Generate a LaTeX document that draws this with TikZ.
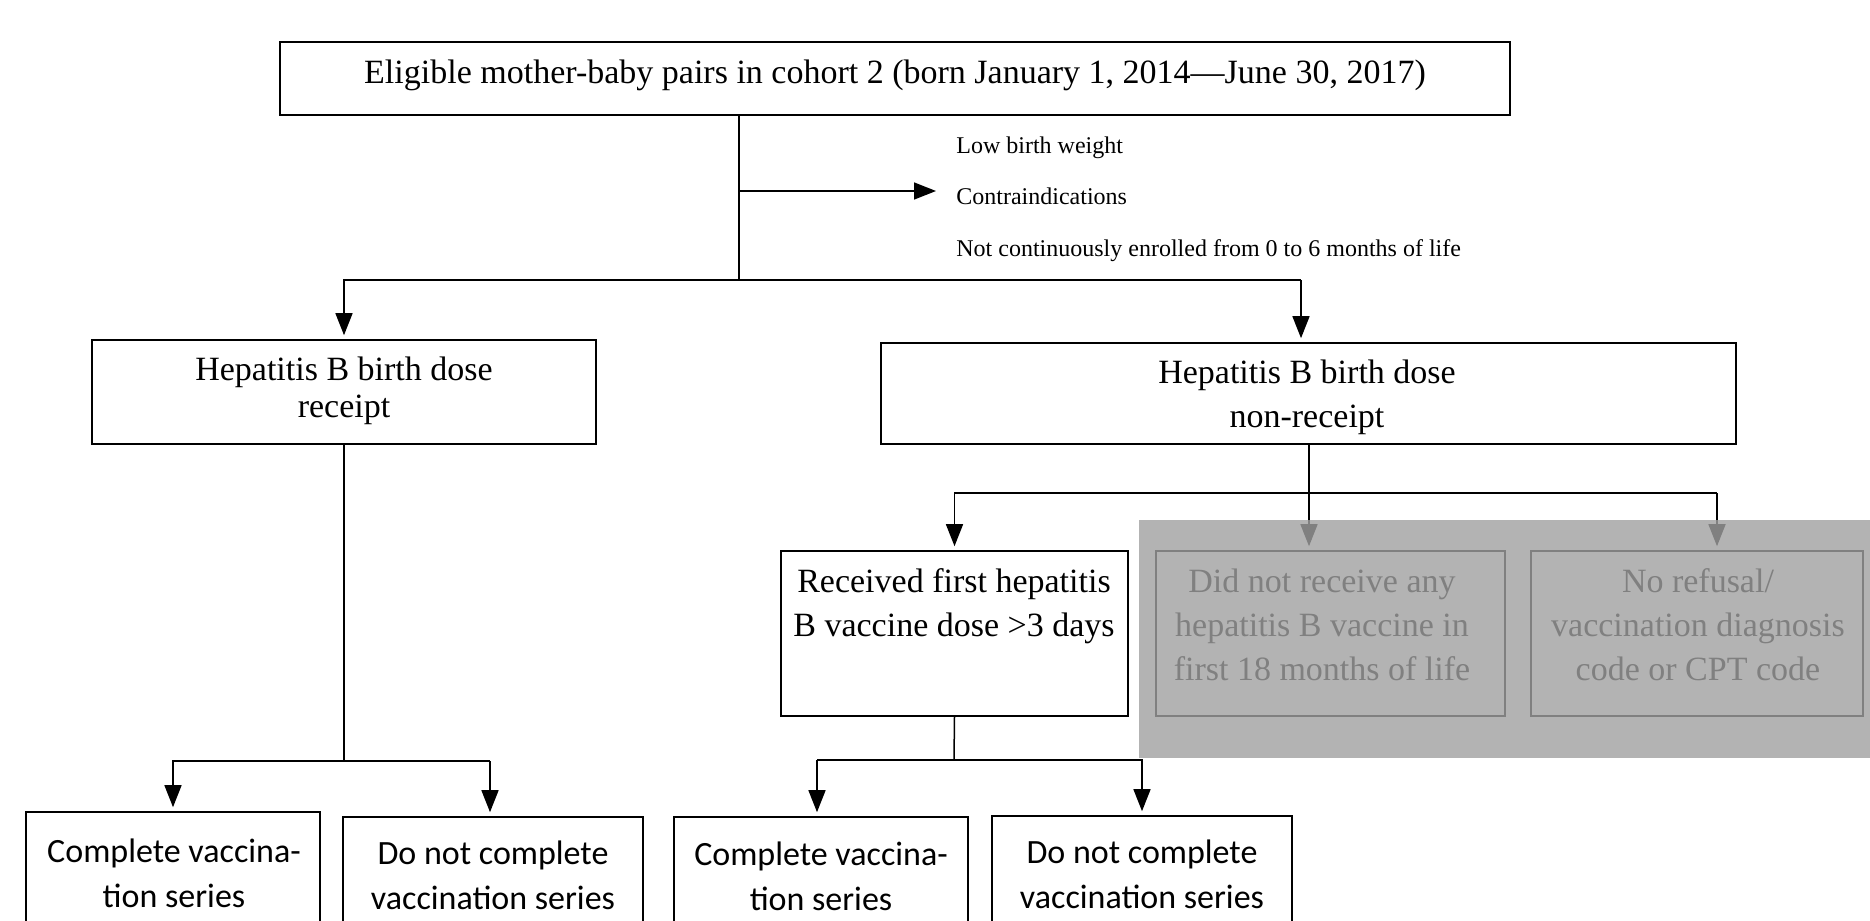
\documentclass[tikz,border=0pt]{standalone}
\usepackage{fontspec}
\setmainfont{Liberation Serif}
\newfontfamily\sansc{Carlito}
\usetikzlibrary{arrows.meta}
\definecolor{ov}{RGB}{160,160,160}
\begin{document}
\begin{tikzpicture}[x=0.5pt,y=-0.5pt,
  box/.style={draw, line width=0.8pt, inner sep=0pt},
  conn/.style={line width=0.75pt},
  arr/.style={conn, -{Triangle[length=11pt,width=8.5pt]}, shorten >=2pt},
  serif/.style={font=\fontsize{17}{22}\selectfont, align=center, inner sep=0pt},
  sans/.style={font=\sansc\fontsize{17}{22.5}\selectfont, align=center, inner sep=0pt},
]
\useasboundingbox (0,0) rectangle (1870,921);
\clip (0,0) rectangle (1870,921);

% boxes
\node[box, minimum width=615pt, minimum height=36.5pt] (top) at (895,78.5) {};
\node[box, minimum width=252pt, minimum height=52pt] (hepL) at (344,392) {};
\node[box, minimum width=427.5pt, minimum height=50.5pt] (hepR) at (1308.5,393.5) {};
\node[box, minimum width=173.5pt, minimum height=82.5pt] (recv) at (954.5,633.5) {};
\node[box, minimum width=174.5pt, minimum height=82.5pt] (g1) at (1330.5,633.5) {};
\node[box, minimum width=166pt, minimum height=82.5pt] (g2) at (1697,633.5) {};
\node[box, minimum width=147pt, minimum height=100pt] (c1) at (173,912) {};
\node[box, minimum width=150pt, minimum height=100pt] (d1) at (493,917) {};
\node[box, minimum width=147pt, minimum height=100pt] (c2) at (821,917) {};
\node[box, minimum width=150pt, minimum height=100pt] (d2) at (1142,916) {};

% texts
\node[serif] (topt) at (895,75) {Eligible mother-baby pairs in cohort 2 (born January 1, 2014—June 30, 2017)};
\node[font=\fontsize{12}{25.75}\selectfont, align=left, anchor=west, inner sep=0pt] (excl) at (956,199)
  {Low birth weight\\Contraindications\\Not continuously enrolled from 0 to 6 months of life};
\node[serif, font=\fontsize{17}{18.5}\selectfont] (hepLt) at (344,390.5) {Hepatitis B birth dose\\receipt};
\node[serif] (hepRt) at (1307,397.5) {Hepatitis B birth dose\\non-receipt};
\node[serif] (recvt) at (954,606) {Received first hepatitis\\B vaccine dose >3 days};
\node[serif] (g1t) at (1322,624.5) {Did not receive any\\hepatitis B vaccine in\\first 18 months of life};
\node[serif] (g2t) at (1698,624.5) {No refusal/\\vaccination diagnosis\\code or CPT code};
\node[sans] (c1t) at (174,873) {Complete vaccina-\\tion series};
\node[sans] (d1t) at (493,875) {Do not complete\\vaccination series};
\node[sans] (c2t) at (821,876) {Complete vaccina-\\tion series};
\node[sans] (d2t) at (1142,874) {Do not complete\\vaccination series};

% connectors
\coordinate (j0) at (739,191);
\coordinate (j1) at (739,280);
\coordinate (jr) at (1301,280);
\coordinate (ex) at ([xshift=-10pt]excl.west);
\draw[conn] (top.south -| j1) -- (j1);
\draw[arr, shorten >=0pt] (j0) -- (ex |- j0);
\draw[arr] (j1) -| (hepL.north);
\draw[conn] (j1) -- (jr);
\draw[arr] (jr) -- (jr |- hepR.north);

\coordinate (j2) at (1309,493);
\coordinate (j2r) at (1717,493);
\draw[conn] (hepR.south -| j2) -- (j2);
\draw[conn] (j2) -- (j2r);
\draw[arr] (j2) -| (recv.north);
\draw[arr] (j2) -- (j2 |- g1.north);
\draw[arr] (j2r) -- (j2r |- g2.north);

\coordinate (j3) at (954,760);
\coordinate (j3l) at (817,760);
\draw[conn] (recv.south) -- (j3);
\draw[conn] (j3) -- (j3l);
\draw[arr] (j3l) -- (j3l |- c2.north);
\draw[arr] (j3) -| (d2.north);

\coordinate (j4) at (344,761);
\coordinate (j4r) at (490,761);
\draw[conn] (hepL.south) -- (j4);
\draw[arr] (j4) -| (c1.north);
\draw[conn] (j4) -- (j4r);
\draw[arr] (j4r) -- (j4r |- d1.north);

% grey overlay
\fill[ov, fill opacity=0.8] (1139,520) rectangle (1880,758);
\end{tikzpicture}
\end{document}
